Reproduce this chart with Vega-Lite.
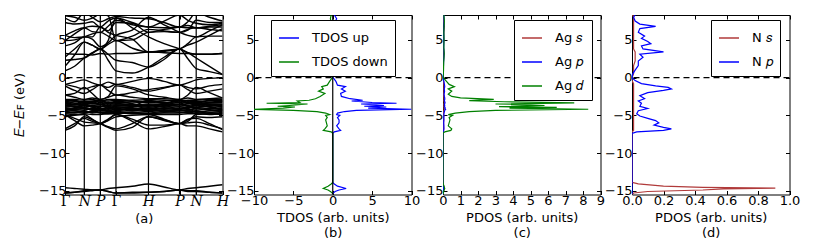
{
  "$schema": "https://vega.github.io/schema/vega-lite/v6.json",
  "padding": {"left": 13, "top": 13, "right": 5, "bottom": 0},
  "spacing": 31,
  "bounds": "flush",
  "config": {
    "view": {"stroke": "black", "strokeWidth": 1},
    "font": "DejaVu Sans",
    "axis": {"domain": false, "grid": false, "ticks": true, "tickColor": "black", "tickSize": -4, "tickWidth": 1, "labelFont": "DejaVu Sans", "labelFontSize": 13, "labelColor": "black", "labelPadding": 4, "titleFont": "DejaVu Sans", "titleFontSize": 13, "titleFontWeight": "normal", "titleColor": "black", "labelFlush": false, "labelOverlap": false, "titleLineHeight": 15},
    "legend": {"symbolType": "stroke", "symbolStrokeWidth": 1.5, "symbolSize": 400, "labelFontSize": 13, "labelFont": "DejaVu Sans", "labelColor": "black", "strokeColor": "black", "padding": 7, "rowPadding": 6, "fillColor": "white", "labelOffset": 12, "cornerRadius": 0}
  },
  "resolve": {"scale": {"x": "independent", "y": "independent", "color": "independent"}, "legend": {"color": "independent"}},
  "datasets": {
    "bands": [
      {"k":0,"C1":0.9,"C2":2.3,"C3":2.7,"C4":4.2,"C5":4.9,"C6":5.6,"C7":7.3,"C8":7.9,"C9":1.5,"C10":3.2,"C11":8.2,"C12":4.9,"C13":5.6,"V1":-0.9,"V2":-0.9,"V3":-1.1,"V4":-2.3,"V5":-2.3,"D1":-3.0,"D2":-3.3,"D3":-3.5,"D4":-3.7,"D5":-3.9,"D6":-4.1,"D7":-4.3,"D8":-4.5,"D9":-4.7,"D10":-3.1,"D11":-4.4,"D12":-3.2,"D13":-3.4,"D14":-3.6,"D15":-3.8,"D16":-4.0,"D17":-4.2,"D18":-4.6,"D19":-4.8,"D20":-2.9,"L1":-4.9,"L2":-4.9,"L3":-7.0,"L4":-5.2,"L5":-6.8,"S1":-14.6,"S2":-15.3,"S3":-15.3},
      {"k":0.061,"C1":1.5,"C2":2.4,"C3":3.8,"C4":4.6,"C5":5.8,"C6":6.2,"C7":7.1,"C8":7.4,"C9":3.0,"C10":3.1,"C11":8.0,"C12":5.0,"C13":5.3,"V1":-0.6,"V2":-1.2,"V3":-1.7,"V4":-2.1,"V5":-2.6,"D1":-3.1,"D2":-3.2,"D3":-3.6,"D4":-3.8,"D5":-3.8,"D6":-4.2,"D7":-4.2,"D8":-4.4,"D9":-4.6,"D10":-3.4,"D11":-4.0,"D12":-3.0,"D13":-3.5,"D14":-3.9,"D15":-3.6,"D16":-4.1,"D17":-4.4,"D18":-4.7,"D19":-4.9,"D20":-2.9,"L1":-5.4,"L2":-5.7,"L3":-6.4,"L4":-5.0,"L5":-6.1,"S1":-14.7,"S2":-15.2,"S3":-15.2},
      {"k":0.1225,"C1":2.6,"C2":2.6,"C3":4.7,"C4":5.4,"C5":6.6,"C6":6.6,"C7":7.2,"C8":8.6,"C9":4.7,"C10":3.1,"C11":7.6,"C12":5.4,"C13":5.4,"V1":-0.3,"V2":-1.5,"V3":-2.1,"V4":-1.3,"V5":-2.9,"D1":-3.2,"D2":-3.4,"D3":-3.3,"D4":-3.9,"D5":-3.7,"D6":-4.3,"D7":-4.1,"D8":-4.5,"D9":-4.7,"D10":-3.6,"D11":-3.5,"D12":-3.4,"D13":-3.6,"D14":-4.0,"D15":-3.5,"D16":-4.0,"D17":-4.6,"D18":-4.4,"D19":-4.8,"D20":-3.0,"L1":-5.9,"L2":-6.4,"L3":-5.2,"L4":-4.9,"L5":-5.4,"S1":-14.8,"S2":-15.0,"S3":-15.1},
      {"k":0.173,"C1":3.3,"C2":3.2,"C3":4.3,"C4":5.4,"C5":6.8,"C6":6.1,"C7":7.4,"C8":8.0,"C9":4.3,"C10":3.0,"C11":7.9,"C12":5.8,"C13":5.1,"V1":-0.7,"V2":-1.2,"V3":-1.6,"V4":-2.1,"V5":-2.7,"D1":-3.1,"D2":-3.5,"D3":-3.4,"D4":-3.7,"D5":-3.9,"D6":-4.1,"D7":-4.3,"D8":-4.6,"D9":-4.5,"D10":-3.9,"D11":-3.2,"D12":-3.2,"D13":-3.3,"D14":-4.1,"D15":-3.8,"D16":-4.2,"D17":-4.4,"D18":-4.7,"D19":-4.9,"D20":-2.9,"L1":-6.0,"L2":-6.3,"L3":-5.6,"L4":-5.5,"L5":-5.8,"S1":-14.9,"S2":-14.9,"S3":-15.0},
      {"k":0.224,"C1":3.8,"C2":3.8,"C3":3.8,"C4":6.7,"C5":6.7,"C6":6.0,"C7":6.7,"C8":7.4,"C9":3.8,"C10":3.2,"C11":8.4,"C12":6.0,"C13":4.1,"V1":-1.0,"V2":-1.0,"V3":-1.0,"V4":-2.9,"V5":-2.9,"D1":-3.0,"D2":-3.3,"D3":-3.6,"D4":-3.6,"D5":-4.1,"D6":-4.1,"D7":-4.4,"D8":-4.4,"D9":-4.7,"D10":-4.2,"D11":-3.0,"D12":-3.5,"D13":-3.1,"D14":-3.9,"D15":-3.8,"D16":-4.3,"D17":-4.2,"D18":-4.6,"D19":-4.9,"D20":-3.1,"L1":-6.1,"L2":-6.1,"L3":-6.1,"L4":-6.1,"L5":-6.1,"S1":-14.9,"S2":-14.9,"S3":-14.9},
      {"k":0.274,"C1":2.3,"C2":3.1,"C3":4.4,"C4":6.0,"C5":6.2,"C6":6.8,"C7":7.5,"C8":7.8,"C9":4.9,"C10":3.1,"C11":8.2,"C12":5.5,"C13":4.6,"V1":-0.6,"V2":-1.3,"V3":-1.7,"V4":-2.6,"V5":-2.5,"D1":-3.1,"D2":-3.4,"D3":-3.5,"D4":-3.8,"D5":-4.0,"D6":-4.2,"D7":-4.3,"D8":-4.5,"D9":-4.8,"D10":-3.8,"D11":-3.6,"D12":-3.3,"D13":-3.3,"D14":-3.7,"D15":-3.9,"D16":-4.1,"D17":-4.4,"D18":-4.6,"D19":-4.8,"D20":-2.9,"L1":-5.6,"L2":-5.5,"L3":-6.6,"L4":-5.7,"L5":-6.5,"S1":-14.7,"S2":-15.1,"S3":-15.1},
      {"k":0.3236,"C1":0.9,"C2":2.3,"C3":4.9,"C4":5.6,"C5":7.3,"C6":7.6,"C7":7.9,"C8":8.1,"C9":7.9,"C10":3.2,"C11":4.9,"C12":4.9,"C13":5.6,"V1":-0.9,"V2":-0.9,"V3":-2.3,"V4":-2.3,"V5":-1.1,"D1":-3.0,"D2":-3.3,"D3":-3.5,"D4":-3.7,"D5":-3.9,"D6":-4.1,"D7":-4.3,"D8":-4.5,"D9":-4.7,"D10":-3.1,"D11":-4.4,"D12":-3.2,"D13":-3.4,"D14":-3.6,"D15":-3.8,"D16":-4.0,"D17":-4.2,"D18":-4.6,"D19":-4.8,"D20":-2.9,"L1":-4.9,"L2":-4.9,"L3":-7.0,"L4":-5.2,"L5":-6.8,"S1":-14.6,"S2":-15.3,"S3":-15.3},
      {"k":0.427,"C1":0.6,"C2":2.0,"C3":3.9,"C4":5.1,"C5":7.2,"C6":7.0,"C7":7.3,"C8":7.9,"C9":6.6,"C10":3.2,"C11":5.0,"C12":5.5,"C13":6.3,"V1":-0.5,"V2":-1.3,"V3":-2.0,"V4":-2.6,"V5":-1.5,"D1":-3.1,"D2":-3.2,"D3":-3.6,"D4":-3.8,"D5":-4.0,"D6":-4.2,"D7":-4.2,"D8":-4.6,"D9":-4.6,"D10":-3.5,"D11":-3.9,"D12":-3.4,"D13":-3.6,"D14":-3.8,"D15":-3.7,"D16":-4.1,"D17":-4.4,"D18":-4.8,"D19":-4.7,"D20":-3.0,"L1":-5.8,"L2":-5.5,"L3":-6.6,"L4":-5.0,"L5":-6.1,"S1":-14.4,"S2":-15.3,"S3":-15.2},
      {"k":0.53,"C1":1.4,"C2":1.4,"C3":3.4,"C4":3.4,"C5":6.0,"C6":6.7,"C7":6.7,"C8":7.8,"C9":5.4,"C10":3.4,"C11":6.0,"C12":6.4,"C13":8.0,"V1":-0.1,"V2":-1.8,"V3":-1.6,"V4":-2.8,"V5":-2.3,"D1":-3.2,"D2":-3.3,"D3":-3.5,"D4":-3.9,"D5":-4.1,"D6":-4.0,"D7":-4.4,"D8":-4.5,"D9":-4.8,"D10":-4.2,"D11":-3.0,"D12":-3.1,"D13":-3.7,"D14":-3.6,"D15":-3.8,"D16":-4.3,"D17":-4.2,"D18":-4.7,"D19":-4.9,"D20":-2.9,"L1":-6.8,"L2":-6.3,"L3":-5.2,"L4":-4.9,"L5":-5.2,"S1":-14.1,"S2":-15.2,"S3":-15.2},
      {"k":0.629,"C1":2.7,"C2":2.4,"C3":3.6,"C4":3.5,"C5":6.4,"C6":6.6,"C7":7.5,"C8":7.3,"C9":4.5,"C10":3.3,"C11":6.1,"C12":6.2,"C13":7.0,"V1":-0.5,"V2":-1.4,"V3":-1.3,"V4":-2.8,"V5":-2.6,"D1":-3.1,"D2":-3.4,"D3":-3.6,"D4":-3.8,"D5":-4.0,"D6":-4.2,"D7":-4.3,"D8":-4.6,"D9":-4.7,"D10":-3.7,"D11":-3.4,"D12":-3.3,"D13":-3.5,"D14":-3.9,"D15":-3.6,"D16":-4.1,"D17":-4.4,"D18":-4.5,"D19":-4.9,"D20":-3.0,"L1":-6.5,"L2":-6.3,"L3":-5.6,"L4":-5.5,"L5":-5.7,"S1":-14.5,"S2":-15.1,"S3":-15.1},
      {"k":0.727,"C1":3.8,"C2":3.8,"C3":3.8,"C4":3.8,"C5":6.7,"C6":6.7,"C7":8.3,"C8":6.7,"C9":3.8,"C10":3.2,"C11":6.0,"C12":6.0,"C13":6.0,"V1":-1.0,"V2":-1.0,"V3":-1.0,"V4":-2.9,"V5":-2.9,"D1":-3.0,"D2":-3.3,"D3":-3.6,"D4":-3.6,"D5":-4.1,"D6":-4.1,"D7":-4.4,"D8":-4.4,"D9":-4.7,"D10":-4.2,"D11":-3.0,"D12":-3.5,"D13":-3.1,"D14":-3.9,"D15":-3.8,"D16":-4.3,"D17":-4.2,"D18":-4.6,"D19":-4.9,"D20":-3.1,"L1":-6.1,"L2":-6.1,"L3":-6.1,"L4":-6.1,"L5":-6.1,"S1":-14.9,"S2":-14.9,"S3":-14.9},
      {"k":0.78,"C1":3.3,"C2":2.5,"C3":4.3,"C4":4.5,"C5":6.9,"C6":6.6,"C7":7.6,"C8":7.4,"C9":3.3,"C10":3.2,"C11":6.3,"C12":6.4,"C13":5.6,"V1":-0.7,"V2":-1.3,"V3":-1.6,"V4":-2.3,"V5":-2.7,"D1":-3.1,"D2":-3.4,"D3":-3.5,"D4":-3.8,"D5":-3.9,"D6":-4.2,"D7":-4.3,"D8":-4.5,"D9":-4.6,"D10":-3.9,"D11":-3.3,"D12":-3.2,"D13":-3.4,"D14":-4.0,"D15":-3.7,"D16":-4.4,"D17":-4.1,"D18":-4.7,"D19":-4.8,"D20":-3.0,"L1":-6.0,"L2":-6.4,"L3":-5.6,"L4":-5.8,"L5":-5.5,"S1":-14.7,"S2":-15.0,"S3":-15.1},
      {"k":0.833,"C1":2.6,"C2":1.2,"C3":4.7,"C4":5.4,"C5":6.6,"C6":6.6,"C7":7.2,"C8":8.6,"C9":3.1,"C10":3.1,"C11":7.6,"C12":6.6,"C13":5.4,"V1":-0.3,"V2":-1.5,"V3":-2.1,"V4":-1.3,"V5":-2.9,"D1":-3.2,"D2":-3.4,"D3":-3.3,"D4":-3.9,"D5":-3.7,"D6":-4.3,"D7":-4.1,"D8":-4.5,"D9":-4.7,"D10":-3.6,"D11":-3.5,"D12":-3.4,"D13":-3.6,"D14":-4.0,"D15":-3.5,"D16":-4.0,"D17":-4.6,"D18":-4.4,"D19":-4.8,"D20":-3.0,"L1":-5.9,"L2":-6.4,"L3":-5.2,"L4":-4.9,"L5":-5.4,"S1":-14.6,"S2":-15.0,"S3":-15.1},
      {"k":0.917,"C1":1.5,"C2":0.8,"C3":5.6,"C4":5.5,"C5":6.7,"C6":6.8,"C7":7.0,"C8":8.0,"C9":3.1,"C10":3.1,"C11":7.3,"C12":6.4,"C13":6.2,"V1":-0.1,"V2":-1.1,"V3":-1.8,"V4":-2.0,"V5":-2.8,"D1":-3.1,"D2":-3.3,"D3":-3.5,"D4":-3.8,"D5":-3.9,"D6":-4.2,"D7":-4.3,"D8":-4.6,"D9":-4.7,"D10":-3.3,"D11":-3.9,"D12":-3.0,"D13":-3.5,"D14":-3.7,"D15":-3.6,"D16":-4.1,"D17":-4.4,"D18":-4.8,"D19":-4.9,"D20":-2.9,"L1":-6.3,"L2":-6.8,"L3":-5.3,"L4":-4.8,"L5":-6.1,"S1":-14.4,"S2":-15.2,"S3":-15.2},
      {"k":1.0,"C1":0.4,"C2":0.4,"C3":6.5,"C4":5.5,"C5":6.7,"C6":7.0,"C7":7.2,"C8":7.5,"C9":3.2,"C10":3.2,"C11":7.3,"C12":6.2,"C13":7.0,"V1":0.0,"V2":-0.9,"V3":-1.5,"V4":-2.7,"V5":-2.7,"D1":-3.0,"D2":-3.3,"D3":-3.5,"D4":-3.7,"D5":-4.1,"D6":-4.0,"D7":-4.4,"D8":-4.5,"D9":-4.8,"D10":-3.1,"D11":-4.3,"D12":-3.2,"D13":-3.6,"D14":-3.8,"D15":-3.9,"D16":-4.2,"D17":-4.3,"D18":-4.6,"D19":-4.7,"D20":-2.9,"L1":-6.8,"L2":-7.2,"L3":-5.2,"L4":-4.9,"L5":-6.9,"S1":-14.2,"S2":-15.3,"S3":-15.3}
    ],
    "hs": [{"k":0.1225},{"k":0.224},{"k":0.3236},{"k":0.53},{"k":0.727},{"k":0.833}],
    "zero": [{"v":0}],
    "tdos": [
      {"E":8.3,"TDOS up":0.2,"TDOS down":-0.2},
      {"E":7.8,"TDOS up":0.5,"TDOS down":-0.3},
      {"E":7.4,"TDOS up":0.3,"TDOS down":-0.2},
      {"E":6.8,"TDOS up":0.45,"TDOS down":-0.35},
      {"E":6.0,"TDOS up":0.3,"TDOS down":-0.25},
      {"E":5.0,"TDOS up":0.35,"TDOS down":-0.3},
      {"E":4.0,"TDOS up":0.3,"TDOS down":-0.25},
      {"E":3.3,"TDOS up":0.45,"TDOS down":-0.4},
      {"E":2.5,"TDOS up":0.25,"TDOS down":-0.25},
      {"E":1.5,"TDOS up":0.2,"TDOS down":-0.2},
      {"E":0.7,"TDOS up":0.1,"TDOS down":-0.1},
      {"E":0.0,"TDOS up":0.05,"TDOS down":-0.05},
      {"E":-0.5,"TDOS up":0.4,"TDOS down":-0.4},
      {"E":-1.0,"TDOS up":0.6,"TDOS down":-0.7},
      {"E":-1.2,"TDOS up":1.6,"TDOS down":-1.4},
      {"E":-1.5,"TDOS up":1.1,"TDOS down":-1.2},
      {"E":-1.8,"TDOS up":1.6,"TDOS down":-1.8},
      {"E":-2.1,"TDOS up":1.0,"TDOS down":-1.0},
      {"E":-2.5,"TDOS up":1.1,"TDOS down":-1.6},
      {"E":-2.8,"TDOS up":2.2,"TDOS down":-2.2},
      {"E":-3.0,"TDOS up":3.8,"TDOS down":-3.0},
      {"E":-3.1,"TDOS up":2.4,"TDOS down":-4.5},
      {"E":-3.3,"TDOS up":5.0,"TDOS down":-4.2},
      {"E":-3.4,"TDOS up":8.1,"TDOS down":-8.4},
      {"E":-3.5,"TDOS up":3.6,"TDOS down":-3.2},
      {"E":-3.7,"TDOS up":6.5,"TDOS down":-5.5},
      {"E":-3.8,"TDOS up":4.0,"TDOS down":-7.0},
      {"E":-3.9,"TDOS up":6.8,"TDOS down":-4.8},
      {"E":-4.05,"TDOS up":4.5,"TDOS down":-6.3},
      {"E":-4.2,"TDOS up":10.0,"TDOS down":-10.0},
      {"E":-4.35,"TDOS up":3.0,"TDOS down":-5.0},
      {"E":-4.5,"TDOS up":1.5,"TDOS down":-2.0},
      {"E":-4.7,"TDOS up":0.6,"TDOS down":-0.9},
      {"E":-4.9,"TDOS up":0.5,"TDOS down":-0.4},
      {"E":-5.0,"TDOS up":0.9,"TDOS down":-0.9},
      {"E":-5.3,"TDOS up":0.6,"TDOS down":-0.7},
      {"E":-5.6,"TDOS up":0.8,"TDOS down":-0.9},
      {"E":-6.0,"TDOS up":0.8,"TDOS down":-0.8},
      {"E":-6.4,"TDOS up":0.5,"TDOS down":-0.7},
      {"E":-6.8,"TDOS up":0.8,"TDOS down":-1.0},
      {"E":-7.0,"TDOS up":1.0,"TDOS down":-1.2},
      {"E":-7.2,"TDOS up":0.2,"TDOS down":-0.2},
      {"E":-7.4,"TDOS up":0.0,"TDOS down":0.0},
      {"E":-13.9,"TDOS up":0.0,"TDOS down":0.0},
      {"E":-14.1,"TDOS up":0.2,"TDOS down":-0.2},
      {"E":-14.4,"TDOS up":0.6,"TDOS down":-0.6},
      {"E":-14.7,"TDOS up":1.7,"TDOS down":-1.2},
      {"E":-14.9,"TDOS up":0.8,"TDOS down":-0.6},
      {"E":-15.1,"TDOS up":0.3,"TDOS down":-0.3},
      {"E":-15.3,"TDOS up":0.05,"TDOS down":-0.05},
      {"E":-15.5,"TDOS up":0.0,"TDOS down":0.0}
    ],
    "ag": [
      {"E":8.3,"s":0.02,"p":0.05,"d":0.05},
      {"E":7.5,"s":0.03,"p":0.06,"d":0.08},
      {"E":6.8,"s":0.08,"p":0.05,"d":0.06},
      {"E":6.0,"s":0.04,"p":0.04,"d":0.05},
      {"E":5.0,"s":0.03,"p":0.05,"d":0.06},
      {"E":4.0,"s":0.02,"p":0.04,"d":0.05},
      {"E":3.2,"s":0.05,"p":0.06,"d":0.07},
      {"E":2.0,"s":0.02,"p":0.03,"d":0.04},
      {"E":1.0,"s":0.02,"p":0.02,"d":0.03},
      {"E":0.0,"s":0.01,"p":0.01,"d":0.01},
      {"E":-0.5,"s":0.03,"p":0.05,"d":0.2},
      {"E":-0.9,"s":0.05,"p":0.08,"d":0.35},
      {"E":-1.2,"s":0.06,"p":0.1,"d":0.65},
      {"E":-1.5,"s":0.05,"p":0.07,"d":0.3},
      {"E":-1.8,"s":0.06,"p":0.09,"d":0.5},
      {"E":-2.2,"s":0.04,"p":0.06,"d":0.3},
      {"E":-2.5,"s":0.05,"p":0.08,"d":0.5},
      {"E":-2.7,"s":0.06,"p":0.1,"d":1.0},
      {"E":-2.9,"s":0.06,"p":0.1,"d":2.9},
      {"E":-3.05,"s":0.05,"p":0.08,"d":1.5},
      {"E":-3.2,"s":0.07,"p":0.1,"d":3.5},
      {"E":-3.35,"s":0.08,"p":0.12,"d":7.5},
      {"E":-3.5,"s":0.05,"p":0.08,"d":3.0},
      {"E":-3.7,"s":0.06,"p":0.1,"d":5.8},
      {"E":-3.85,"s":0.05,"p":0.08,"d":3.2},
      {"E":-3.95,"s":0.07,"p":0.12,"d":6.5},
      {"E":-4.05,"s":0.06,"p":0.1,"d":3.8},
      {"E":-4.2,"s":0.08,"p":0.15,"d":8.3},
      {"E":-4.35,"s":0.05,"p":0.1,"d":3.0},
      {"E":-4.5,"s":0.04,"p":0.08,"d":1.5},
      {"E":-4.7,"s":0.03,"p":0.06,"d":0.7},
      {"E":-4.9,"s":0.03,"p":0.05,"d":0.3},
      {"E":-5.0,"s":0.04,"p":0.06,"d":0.55},
      {"E":-5.3,"s":0.03,"p":0.05,"d":0.35},
      {"E":-5.6,"s":0.04,"p":0.05,"d":0.4},
      {"E":-6.0,"s":0.03,"p":0.04,"d":0.35},
      {"E":-6.4,"s":0.03,"p":0.05,"d":0.3},
      {"E":-6.8,"s":0.04,"p":0.05,"d":0.5},
      {"E":-7.0,"s":0.03,"p":0.04,"d":0.45},
      {"E":-7.2,"s":0.01,"p":0.01,"d":0.1},
      {"E":-7.4,"s":0,"p":0,"d":0},
      {"E":-13.9,"s":0,"p":0,"d":0},
      {"E":-14.2,"s":0.02,"p":0.01,"d":0.03},
      {"E":-14.7,"s":0.08,"p":0.04,"d":0.1},
      {"E":-15.0,"s":0.03,"p":0.02,"d":0.05},
      {"E":-15.5,"s":0,"p":0,"d":0}
    ],
    "n": [
      {"E":8.3,"s":0.005,"p":0.02},
      {"E":8.0,"s":0.01,"p":0.01},
      {"E":7.5,"s":0.01,"p":0.02},
      {"E":7.1,"s":0.01,"p":0.05},
      {"E":6.8,"s":0.01,"p":0.15},
      {"E":6.5,"s":0.01,"p":0.05},
      {"E":6.0,"s":0.01,"p":0.04},
      {"E":5.5,"s":0.01,"p":0.08},
      {"E":5.2,"s":0.01,"p":0.06},
      {"E":4.8,"s":0.01,"p":0.1},
      {"E":4.5,"s":0.01,"p":0.12},
      {"E":4.2,"s":0.01,"p":0.06},
      {"E":3.8,"s":0.01,"p":0.07},
      {"E":3.4,"s":0.02,"p":0.2},
      {"E":3.1,"s":0.02,"p":0.05},
      {"E":2.7,"s":0.02,"p":0.07},
      {"E":2.2,"s":0.02,"p":0.04},
      {"E":1.6,"s":0.01,"p":0.04},
      {"E":1.0,"s":0.01,"p":0.02},
      {"E":0.5,"s":0.01,"p":0.005},
      {"E":0.0,"s":0.0,"p":0.0},
      {"E":-0.4,"s":0.0,"p":0.02},
      {"E":-0.8,"s":0.01,"p":0.06},
      {"E":-1.1,"s":0.01,"p":0.15},
      {"E":-1.3,"s":0.01,"p":0.23},
      {"E":-1.5,"s":0.01,"p":0.25},
      {"E":-1.7,"s":0.01,"p":0.2},
      {"E":-2.0,"s":0.01,"p":0.1},
      {"E":-2.4,"s":0.01,"p":0.05},
      {"E":-2.8,"s":0.01,"p":0.08},
      {"E":-3.1,"s":0.01,"p":0.04},
      {"E":-3.4,"s":0.01,"p":0.06},
      {"E":-3.8,"s":0.01,"p":0.05},
      {"E":-4.1,"s":0.01,"p":0.1},
      {"E":-4.4,"s":0.01,"p":0.04},
      {"E":-4.8,"s":0.01,"p":0.03},
      {"E":-5.1,"s":0.01,"p":0.05},
      {"E":-5.4,"s":0.01,"p":0.1},
      {"E":-5.7,"s":0.01,"p":0.15},
      {"E":-6.0,"s":0.01,"p":0.17},
      {"E":-6.3,"s":0.01,"p":0.14},
      {"E":-6.6,"s":0.01,"p":0.2},
      {"E":-6.8,"s":0.01,"p":0.25},
      {"E":-7.0,"s":0.01,"p":0.2},
      {"E":-7.2,"s":0.0,"p":0.03},
      {"E":-7.4,"s":0.0,"p":0.0},
      {"E":-13.9,"s":0.0,"p":0.0},
      {"E":-14.1,"s":0.04,"p":0.0},
      {"E":-14.4,"s":0.2,"p":0.0},
      {"E":-14.55,"s":0.45,"p":0.0},
      {"E":-14.65,"s":0.91,"p":0.0},
      {"E":-14.75,"s":0.58,"p":0.0},
      {"E":-14.9,"s":0.45,"p":0.0},
      {"E":-15.1,"s":0.1,"p":0.0},
      {"E":-15.3,"s":0.01,"p":0.0},
      {"E":-15.5,"s":0.0,"p":0.0}
    ]
  },
  "hconcat": [
    {
      "width": 157.5, "height": 179.5,
      "resolve": {"axis": {"x": "independent", "y": "independent"}},
      "layer": [
        {
          "data": {"name": "bands"},
          "transform": [{"fold": ["C1","C2","C3","C4","C5","C6","C7","C8","C9","C10","C11","C12","C13","V1","V2","V3","V4","V5","D1","D2","D3","D4","D5","D6","D7","D8","D9","D10","D11","D12","D13","D14","D15","D16","D17","D18","D19","D20","L1","L2","L3","L4","L5","S1","S2","S3"], "as": ["band","E"]}],
          "mark": {"type": "line", "color": "black", "strokeWidth": 1.4, "interpolate": "monotone", "clip": true},
          "encoding": {
            "x": {"field": "k", "type": "quantitative", "scale": {"domain": [0,1], "nice": false, "zero": false},
                  "axis": {"orient": "bottom", "title": "(a)", "values": [0,0.1225,0.224,0.3236,0.53,0.727,0.833,1], "labelOverlap": false, "labelFont": "DejaVu Serif", "labelFontSize": 14, "labelExpr": "datum.value==0||datum.value==0.3236?'Γ':(datum.value==0.1225||datum.value==0.833?'N':(datum.value==0.224||datum.value==0.727?'P':'H'))", "labelFontStyle": {"condition": {"test": "datum.value==0||datum.value==0.3236", "value": "normal"}, "value": "italic"}}},
            "y": {"field": "E", "type": "quantitative", "scale": {"domain": [-15.5,8.3], "nice": false, "zero": false},
                  "axis": {"orient": "left", "title": "𝐸−𝐸ꜰ (eV)", "titlePadding": 12, "labelPadding": 3, "values": [-15,-10,-5,0,5]}},
            "detail": {"field": "band"}
          }
        },
        {"data": {"name": "hs"}, "mark": {"type": "rule", "color": "black", "strokeWidth": 1.2}, "encoding": {"x": {"field": "k", "type": "quantitative", "axis": null}}},
        {"data": {"name": "zero"}, "mark": {"type": "rule", "color": "black", "strokeWidth": 1.2, "strokeDash": [6,4]}, "encoding": {"y": {"field": "v", "type": "quantitative", "axis": null}}},
        {"data": {"name": "zero"}, "mark": {"type": "point", "opacity": 0}, "encoding": {"x": {"field": "v", "type": "quantitative", "axis": {"orient": "top", "labels": false, "title": null, "values": [0,0.1225,0.224,0.3236,0.53,0.727,0.833,1]}}, "y": {"field": "v", "type": "quantitative", "axis": {"orient": "right", "labels": false, "title": null, "values": [-15,-10,-5,0,5]}}}}
      ]
    },
    {
      "width": 157.5, "height": 179.5,
      "resolve": {"axis": {"x": "independent", "y": "independent"}},
      "layer": [
        {
          "data": {"name": "tdos"},
          "transform": [{"fold": ["TDOS up","TDOS down"], "as": ["series","dos"]}],
          "mark": {"type": "line", "strokeWidth": 1.2, "clip": true},
          "encoding": {
            "x": {"field": "dos", "type": "quantitative", "scale": {"domain": [-10,10], "nice": false, "zero": false}, "axis": {"orient": "bottom", "title": ["TDOS (arb. units)", "(b)"], "values": [-10,-5,0,5,10]}},
            "y": {"field": "E", "type": "quantitative", "scale": {"domain": [-15.5,8.3], "nice": false, "zero": false}, "axis": {"orient": "left", "title": null, "values": [-15,-10,-5,0,5]}},
            "color": {"field": "series", "type": "nominal", "scale": {"domain": ["TDOS up","TDOS down"], "range": ["#0000ff","#008000"]}, "legend": {"title": null, "orient": "none", "legendX": 17, "legendY": 5}},
            "order": {"field": "E", "type": "quantitative"}
          }
        },
        {"data": {"name": "zero"}, "mark": {"type": "rule", "color": "black", "strokeWidth": 1.2}, "encoding": {"x": {"field": "v", "type": "quantitative", "axis": null}}},
        {"data": {"name": "zero"}, "mark": {"type": "rule", "color": "black", "strokeWidth": 1.2, "strokeDash": [6,4]}, "encoding": {"y": {"field": "v", "type": "quantitative", "axis": null}}},
        {"data": {"name": "zero"}, "mark": {"type": "point", "opacity": 0}, "encoding": {"x": {"field": "v", "type": "quantitative", "axis": {"orient": "top", "labels": false, "title": null, "values": [-10,-5,0,5,10]}}, "y": {"field": "v", "type": "quantitative", "axis": {"orient": "right", "labels": false, "title": null, "values": [-15,-10,-5,0,5]}}}}
      ]
    },
    {
      "width": 157.5, "height": 179.5,
      "resolve": {"axis": {"x": "independent", "y": "independent"}},
      "layer": [
        {
          "data": {"name": "ag"},
          "transform": [{"fold": ["s","p","d"], "as": ["orb","dos"]}],
          "mark": {"type": "line", "strokeWidth": 1.2, "clip": true},
          "encoding": {
            "x": {"field": "dos", "type": "quantitative", "scale": {"domain": [0,9], "nice": false, "zero": false}, "axis": {"orient": "bottom", "title": ["PDOS (arb. units)", "(c)"], "values": [0,1,2,3,4,5,6,7,8,9]}},
            "y": {"field": "E", "type": "quantitative", "scale": {"domain": [-15.5,8.3], "nice": false, "zero": false}, "axis": {"orient": "left", "title": null, "values": [-15,-10,-5,0,5]}},
            "color": {"field": "orb", "type": "nominal", "scale": {"domain": ["s","p","d"], "range": ["#b03a3a","#0000ff","#008000"]}, "legend": {"title": null, "orient": "none", "legendX": 71, "legendY": 5, "labelExpr": "'Ag ' + (datum.label=='s'?'𝑠':(datum.label=='p'?'𝑝':'𝑑'))"}},
            "order": {"field": "E", "type": "quantitative"}
          }
        },
        {"data": {"name": "zero"}, "mark": {"type": "rule", "color": "black", "strokeWidth": 1.2, "strokeDash": [6,4]}, "encoding": {"y": {"field": "v", "type": "quantitative", "axis": null}}},
        {"data": {"name": "zero"}, "mark": {"type": "point", "opacity": 0}, "encoding": {"x": {"field": "v", "type": "quantitative", "axis": {"orient": "top", "labels": false, "title": null, "values": [0,1,2,3,4,5,6,7,8,9]}}, "y": {"field": "v", "type": "quantitative", "axis": {"orient": "right", "labels": false, "title": null, "values": [-15,-10,-5,0,5]}}}}
      ]
    },
    {
      "width": 157.5, "height": 179.5,
      "resolve": {"axis": {"x": "independent", "y": "independent"}},
      "layer": [
        {
          "data": {"name": "n"},
          "transform": [{"fold": ["s","p"], "as": ["orb","dos"]}],
          "mark": {"type": "line", "strokeWidth": 1.2, "clip": true},
          "encoding": {
            "x": {"field": "dos", "type": "quantitative", "scale": {"domain": [0,1], "nice": false, "zero": false}, "axis": {"orient": "bottom", "title": ["PDOS (arb. units)", "(d)"], "values": [0,0.2,0.4,0.6,0.8,1.0], "format": ".1f"}},
            "y": {"field": "E", "type": "quantitative", "scale": {"domain": [-15.5,8.3], "nice": false, "zero": false}, "axis": {"orient": "left", "title": null, "values": [-15,-10,-5,0,5]}},
            "color": {"field": "orb", "type": "nominal", "scale": {"domain": ["s","p"], "range": ["#b03a3a","#0000ff"]}, "legend": {"title": null, "orient": "none", "legendX": 79, "legendY": 5, "labelExpr": "'N ' + (datum.label=='s'?'𝑠':'𝑝')"}},
            "order": {"field": "E", "type": "quantitative"}
          }
        },
        {"data": {"name": "zero"}, "mark": {"type": "rule", "color": "black", "strokeWidth": 1.2, "strokeDash": [6,4]}, "encoding": {"y": {"field": "v", "type": "quantitative", "axis": null}}},
        {"data": {"name": "zero"}, "mark": {"type": "point", "opacity": 0}, "encoding": {"x": {"field": "v", "type": "quantitative", "axis": {"orient": "top", "labels": false, "title": null, "values": [0,0.2,0.4,0.6,0.8,1.0]}}, "y": {"field": "v", "type": "quantitative", "axis": {"orient": "right", "labels": false, "title": null, "values": [-15,-10,-5,0,5]}}}}
      ]
    }
  ]
}
